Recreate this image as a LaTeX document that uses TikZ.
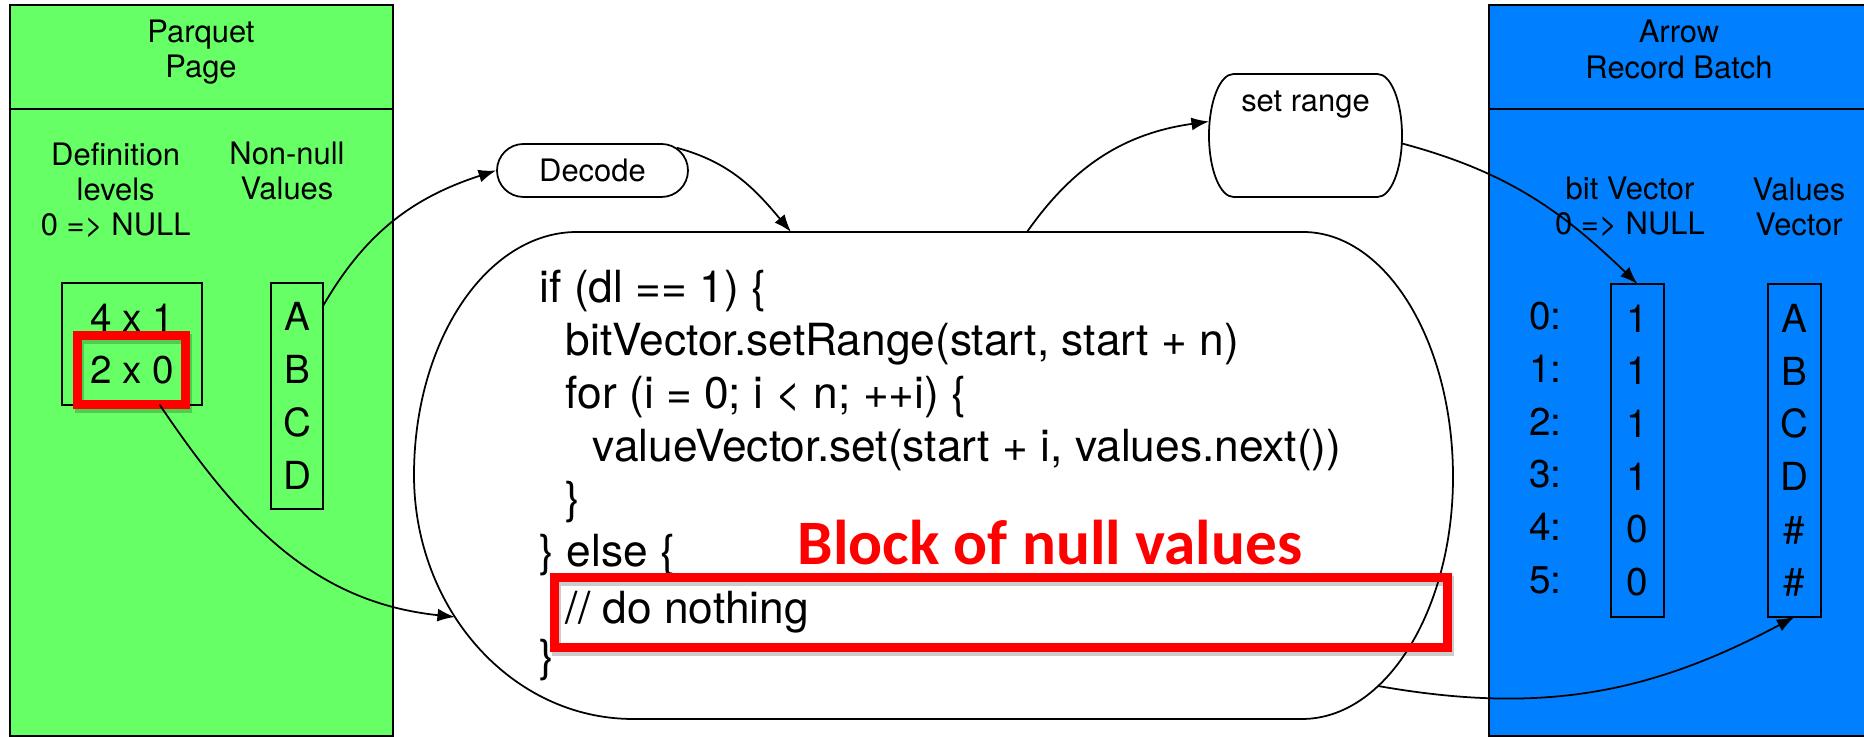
\documentclass[tikz,border=0pt]{standalone}
\usepackage{fontspec}
\setmainfont{TeX Gyre Heros}
\newfontfamily\calfont{Carlito}
\usetikzlibrary{arrows.meta,shapes.misc,positioning,calc}
\definecolor{parquetgreen}{RGB}{102,255,102}
\definecolor{arrowblue}{RGB}{0,128,255}
\definecolor{hlred}{RGB}{255,0,0}

\begin{document}
\begin{tikzpicture}[
    panel/.style={draw,line width=0.6pt,rectangle,outer sep=0pt,minimum height=7.31cm},
    lbl/.style={font=\fontsize{8.8}{10}\selectfont,align=center,inner sep=0pt},
    vec/.style={draw,line width=0.6pt,align=center,inner sep=0pt,outer sep=0pt,font=\fontsize{11}{15}\selectfont},
    code/.style={font=\fontsize{12.6}{15}\selectfont,inner sep=0pt,anchor=base west},
    hlbox/.style={inner sep=0pt,outer sep=0pt},
    hl/.style={draw=hlred,line width=2.6pt},
    hlshadow/.style={draw=black,opacity=0.2,line width=2.6pt},
    conn/.style={-{Latex[length=5pt,width=3.7pt]},line width=0.5pt}]
\useasboundingbox (0,0) rectangle (18.64,7.37);
\fill[white] (0,0) rectangle (18.64,7.37);

\node[panel,fill=parquetgreen,minimum width=3.83cm] (parquet) at (2.015,3.666) {};
\draw[line width=0.6pt] ([yshift=-1.04cm]parquet.north west) -- ([yshift=-1.04cm]parquet.north east);
\node[lbl] (pqtitle) at (2.01,6.85) {Parquet\\Page};
\node[lbl] (deflbl) at (1.157,5.47) {Definition\\levels\\0 => NULL};
\node[lbl] (nnlbl) at (2.87,5.66) {Non-null\\Values};
\node[vec,minimum width=1.40cm,minimum height=1.22cm] (deflev) at (1.32,3.93) {4 x 1\\2 x 0};
\node[vec,minimum width=0.52cm,minimum height=2.26cm] (nnval) at (2.97,3.41) {A\\B\\C\\D};
\node[hlbox,minimum width=1.08cm,minimum height=0.69cm] (defnull) at (1.315,3.67) {};
\draw[hlshadow] ([shift={(0.02,-0.035)}]defnull.south west) rectangle ([shift={(0.02,-0.035)}]defnull.north east);
\draw[hl] (defnull.south west) rectangle (defnull.north east);

\node[panel,fill=arrowblue,minimum width=3.81cm] (arrowrb) at (16.795,3.666) {};
\draw[line width=0.6pt] ([yshift=-1.04cm]arrowrb.north west) -- ([yshift=-1.04cm]arrowrb.north east);
\node[lbl] (abtitle) at (16.79,6.875) {Arrow\\Record Batch};
\node[lbl] (bitlbl) at (16.30,5.30) {bit Vector\\0 => NULL};
\node[lbl] (vvlbl) at (17.99,5.30) {Values\\Vector};
\node[lbl,font=\fontsize{11}{15}\selectfont] (rowidx) at (15.455,2.89) {0:\\1:\\2:\\3:\\4:\\5:};
\node[vec,minimum width=0.53cm,minimum height=3.33cm] (bitvec) at (16.375,2.865) {1\\1\\1\\1\\0\\0};
\node[vec,minimum width=0.53cm,minimum height=3.33cm] (valvec) at (17.945,2.865) {A\\B\\C\\D\\\#\\\#};

\node[draw,rounded rectangle,lbl,line width=0.5pt,minimum width=1.91cm,minimum height=0.53cm] (decode) at (5.925,5.665) {Decode};
\node[minimum width=1.93cm,minimum height=1.23cm,outer sep=0pt] (setrange) at (13.055,6.015) {};
\draw[line width=0.5pt] ([xshift=0.245cm]setrange.north west) -- ([xshift=-0.245cm]setrange.north east)
    .. controls +(0.135,0) and +(0,0.34) .. (setrange.east)
    .. controls +(0,-0.34) and +(0.135,0) .. ([xshift=-0.245cm]setrange.south east)
    -- ([xshift=0.245cm]setrange.south west)
    .. controls +(-0.135,0) and +(0,-0.34) .. (setrange.west)
    .. controls +(0,0.34) and +(-0.135,0) .. ([xshift=0.245cm]setrange.north west) -- cycle;
\node[lbl,anchor=base] (setrangetxt) at ([yshift=-0.38cm]setrange.north) {set range};

\node[minimum width=10.39cm,minimum height=4.87cm,outer sep=0pt] (main) at (9.335,2.615) {};
\draw[line width=0.5pt] ([xshift=1.63cm]main.north west) -- ([xshift=-1.50cm]main.north east)
    arc[start angle=90,end angle=0,x radius=1.50cm,y radius=2.45cm]
    arc[start angle=0,end angle=-90,x radius=1.51cm,y radius=2.42cm]
    -- ([xshift=2.19cm]main.south west)
    arc[start angle=270,end angle=180,x radius=2.19cm,y radius=2.44cm]
    arc[start angle=180,end angle=90,x radius=1.63cm,y radius=2.43cm] -- cycle;
\node[code] (c1) at (5.39,4.34) {if (dl == 1) \{};
\node[code] (c2) at (5.65,3.813) {bitVector.setRange(start, start + n)};
\node[code] (c3) at (5.65,3.286) {for (i = 0; i < n; ++i) \{};
\node[code] (c4) at (5.92,2.759) {valueVector.set(start + i, values.next())};
\node[code] (c5) at (5.65,2.232) {\}};
\node[code] (c6) at (5.39,1.705) {\} else \{};
\node[code] (c7) at (5.65,1.13) {// do nothing};
\node[code] (c8) at (5.39,0.651) {\}};
\node[hlbox,minimum width=8.93cm,minimum height=0.70cm] (nullblock) at (10.01,1.245) {};
\draw[hlshadow] ([shift={(0.02,-0.035)}]nullblock.south west) rectangle ([shift={(0.02,-0.035)}]nullblock.north east);
\draw[hl] (nullblock.south west) rectangle (nullblock.north east);
\node[font=\calfont\bfseries\fontsize{18}{20}\selectfont,text=hlred,anchor=base,inner sep=0pt] (blocklbl) at (10.50,1.72) {Block of null values};

\draw[conn] ([yshift=-0.23cm]nnval.north east) to[out=60,in=198] (decode.west);
\draw[conn] (decode.15) to[out=-15,in=130] ([xshift=3.77cm]main.north west);
\draw[conn] ([xshift=6.13cm]main.north west) to[out=55,in=188] ([yshift=0.14cm]setrange.west);
\draw[conn] ([yshift=-0.08cm]setrange.east) to[out=-15,in=136] (bitvec.north);
\draw[conn] ([xshift=-0.75cm,yshift=0.33cm]main.south east) to[out=-10,in=-152] (valvec.south);
\draw[conn] ([xshift=0.28cm]defnull.south) to[out=-56,in=174] ([xshift=0.41cm,yshift=1.02cm]main.south west);
\end{tikzpicture}
\end{document}
